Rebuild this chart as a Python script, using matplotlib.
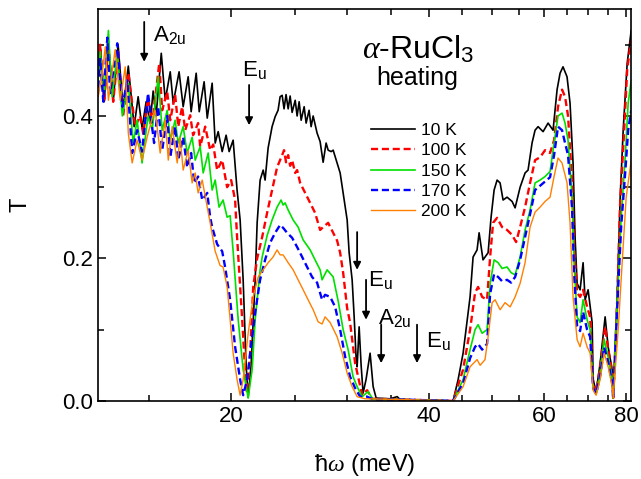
import numpy as np
import matplotlib
matplotlib.use('Agg')
import matplotlib.pyplot as plt
from matplotlib.ticker import FixedLocator, NullFormatter

plt.rcParams['font.family'] = ['Liberation Sans', 'DejaVu Sans']
plt.rcParams['mathtext.fontset'] = 'custom'
plt.rcParams['mathtext.rm'] = 'Liberation Sans'
plt.rcParams['mathtext.it'] = 'Liberation Serif:italic'

# photon energy (meV) and transmission
e10 = [12.54, 12.63, 12.81, 13.00, 13.22, 13.45, 13.69, 13.94, 14.23, 14.43, 14.63, 14.84, 15.05, 15.21,
       15.37, 15.65, 15.87, 16.15, 16.32, 16.66, 16.90, 17.20, 17.38, 17.69, 17.88, 18.19, 18.39, 18.71,
       18.91, 19.11, 19.38, 19.65, 19.86, 20.14, 20.42, 20.64, 20.86, 21.08, 21.23, 21.45, 21.76, 21.91,
       22.14, 22.38, 22.53, 22.77, 23.09, 23.34, 23.58, 23.75, 23.92, 24.08, 24.25, 24.43, 24.60, 24.77,
       25.04, 25.21, 25.39, 25.57, 25.84, 26.02, 26.29, 26.48, 26.67, 27.04, 27.33, 27.62, 27.91, 28.11,
       28.41, 28.61, 29.01, 29.32, 29.63, 30.05, 30.26, 30.58, 30.79, 31.01, 31.12, 31.34, 31.56, 31.78,
       32.11, 32.57, 32.92, 33.27, 34.94, 35.81, 36.19, 43.58, 44.36, 45.14, 46.26, 46.75, 47.41, 47.75,
       48.41, 49.28, 49.80, 50.33, 50.86, 51.40, 51.94, 52.67, 53.61, 54.18, 55.14, 56.11, 56.70, 57.50,
       58.11, 58.73, 59.77, 60.83, 61.90, 62.78, 63.44, 64.10, 65.01, 65.70, 66.40, 66.87, 67.35, 68.06,
       68.78, 69.27, 70.00, 71.00, 71.25, 72.00, 73.02, 74.31, 75.10, 76.17, 76.44, 77.52, 78.34, 79.17,
       80.29, 81.43]
t10 = [0.47, 0.50, 0.42, 0.50, 0.42, 0.50, 0.41, 0.47, 0.385, 0.427, 0.383, 0.42, 0.39, 0.435,
       0.40, 0.488, 0.422, 0.462, 0.418, 0.462, 0.413, 0.455, 0.406, 0.46, 0.406, 0.448, 0.397, 0.446,
       0.362, 0.378, 0.35, 0.373, 0.35, 0.366, 0.296, 0.254, 0.17, 0.05, 0.005, 0.05, 0.17, 0.25,
       0.31, 0.324, 0.31, 0.355, 0.385, 0.399, 0.408, 0.427, 0.429, 0.41, 0.43, 0.41, 0.428, 0.405,
       0.422, 0.40, 0.42, 0.394, 0.413, 0.39, 0.408, 0.385, 0.40, 0.376, 0.364, 0.335, 0.362, 0.352,
       0.35, 0.352, 0.334, 0.32, 0.292, 0.254, 0.208, 0.17, 0.12, 0.06, 0.048, 0.104, 0.05, 0.011,
       0.03, 0.067, 0.02, 0.004, 0.003, 0.006, 0.002, 0.0, 0.03, 0.067, 0.146, 0.202, 0.212, 0.236,
       0.198, 0.208, 0.258, 0.296, 0.31, 0.306, 0.282, 0.286, 0.28, 0.271, 0.30, 0.32, 0.324, 0.362,
       0.38, 0.385, 0.378, 0.39, 0.38, 0.437, 0.46, 0.469, 0.455, 0.418, 0.334, 0.23, 0.165, 0.156,
       0.194, 0.142, 0.156, 0.11, 0.03, 0.013, 0.053, 0.118, 0.076, 0.044, 0.004, 0.146, 0.286, 0.38,
       0.474, 0.52]

e100 = [12.54, 12.63, 12.81, 13.00, 13.22, 13.45, 13.69, 13.94, 14.28, 14.53, 14.69, 14.94, 15.16, 15.54,
        15.70, 15.98, 16.15, 16.43, 16.61, 16.84, 17.02, 17.32, 17.50, 17.81, 17.94, 18.26, 18.58, 18.78,
        19.04, 19.38, 19.72, 20.00, 20.28, 20.42, 20.79, 21.00, 21.15, 21.38, 21.61, 21.91, 22.30, 22.69,
        23.09, 23.50, 23.92, 24.08, 24.25, 24.43, 24.60, 24.77, 25.04, 25.21, 25.48, 25.93, 26.39, 26.85,
        27.33, 27.62, 28.11, 28.61, 29.01, 29.32, 29.63, 30.05, 30.36, 30.90, 31.23, 31.67, 32.23, 32.80,
        36.19, 43.58, 45.14, 46.26, 47.08, 47.58, 48.26, 49.10, 49.63, 50.15, 50.86, 51.76, 52.67, 53.61,
        54.37, 55.14, 56.11, 57.10, 58.11, 59.14, 60.19, 61.25, 62.12, 62.99, 63.88, 64.56, 65.24, 66.17,
        66.64, 67.35, 68.06, 68.78, 69.75, 70.50, 71.25, 72.00, 73.02, 74.31, 75.10, 76.17, 76.44, 77.52,
        78.34, 79.45, 80.29, 81.43]
t100 = [0.46, 0.50, 0.42, 0.50, 0.42, 0.49, 0.40, 0.46, 0.385, 0.40, 0.375, 0.425, 0.39, 0.474,
        0.408, 0.434, 0.394, 0.43, 0.385, 0.413, 0.38, 0.401, 0.373, 0.39, 0.357, 0.385, 0.352, 0.36,
        0.324, 0.338, 0.30, 0.31, 0.282, 0.23, 0.114, 0.044, 0.011, 0.067, 0.16, 0.20, 0.23, 0.264,
        0.296, 0.328, 0.345, 0.352, 0.335, 0.345, 0.33, 0.338, 0.32, 0.324, 0.306, 0.292, 0.278, 0.264,
        0.24, 0.244, 0.25, 0.236, 0.225, 0.208, 0.18, 0.13, 0.11, 0.053, 0.034, 0.008, 0.015, 0.003,
        0.002, 0.0, 0.044, 0.10, 0.152, 0.16, 0.146, 0.142, 0.202, 0.25, 0.257, 0.244, 0.24, 0.233,
        0.223, 0.244, 0.272, 0.306, 0.338, 0.342, 0.352, 0.348, 0.366, 0.413, 0.437, 0.427, 0.40, 0.31,
        0.216, 0.152, 0.146, 0.156, 0.132, 0.118, 0.025, 0.012, 0.048, 0.104, 0.072, 0.04, 0.004, 0.14,
        0.278, 0.38, 0.465, 0.507]

e150 = [12.54, 12.63, 12.81, 13.00, 13.17, 13.41, 13.65, 13.94, 14.18, 14.38, 14.63, 14.94, 15.16, 15.48,
        15.70, 15.98, 16.15, 16.43, 16.61, 16.90, 17.14, 17.44, 17.63, 17.94, 18.13, 18.45, 18.71, 18.91,
        19.17, 19.44, 19.72, 19.93, 20.14, 20.50, 20.86, 21.23, 21.53, 21.76, 22.14, 22.30, 22.69, 23.09,
        23.50, 23.83, 24.00, 24.17, 24.43, 24.86, 25.30, 25.75, 26.39, 26.85, 27.33, 27.52, 28.01, 28.61,
        29.12, 29.63, 30.15, 30.68, 31.12, 31.67, 32.34, 32.92, 36.19, 43.58, 45.14, 46.26, 47.08, 47.58,
        48.26, 49.10, 49.63, 50.33, 51.04, 51.76, 52.67, 53.43, 54.18, 55.14, 56.11, 57.10, 58.11, 59.14,
        60.19, 61.25, 62.12, 62.99, 63.88, 64.56, 65.24, 66.17, 66.64, 67.35, 68.06, 68.78, 69.75, 70.50,
        71.25, 72.00, 73.02, 74.05, 75.10, 76.17, 76.44, 77.52, 78.62, 79.73, 80.57, 81.43]
t150 = [0.45, 0.49, 0.43, 0.52, 0.427, 0.488, 0.40, 0.446, 0.362, 0.394, 0.334, 0.40, 0.38, 0.455,
        0.38, 0.408, 0.366, 0.394, 0.362, 0.385, 0.348, 0.37, 0.338, 0.357, 0.32, 0.348, 0.296, 0.31,
        0.272, 0.282, 0.258, 0.26, 0.21, 0.114, 0.044, 0.004, 0.044, 0.114, 0.184, 0.202, 0.232, 0.254,
        0.272, 0.282, 0.275, 0.278, 0.268, 0.254, 0.244, 0.226, 0.212, 0.198, 0.184, 0.17, 0.184, 0.174,
        0.14, 0.10, 0.072, 0.034, 0.02, 0.006, 0.013, 0.002, 0.002, 0.0, 0.03, 0.072, 0.10, 0.107,
        0.095, 0.10, 0.165, 0.198, 0.194, 0.186, 0.188, 0.18, 0.177, 0.202, 0.24, 0.268, 0.306, 0.31,
        0.315, 0.322, 0.362, 0.40, 0.404, 0.39, 0.366, 0.286, 0.194, 0.118, 0.11, 0.142, 0.114, 0.10,
        0.02, 0.01, 0.04, 0.086, 0.062, 0.03, 0.004, 0.138, 0.258, 0.342, 0.418, 0.45]

e170 = [12.54, 12.63, 12.77, 12.95, 13.08, 13.41, 13.65, 13.89, 14.13, 14.38, 14.63, 14.94, 15.26, 15.48,
        15.70, 15.98, 16.15, 16.43, 16.61, 16.90, 17.14, 17.38, 17.57, 17.81, 18.07, 18.39, 18.58, 18.71,
        19.04, 19.38, 19.58, 19.93, 20.28, 20.64, 20.86, 21.15, 21.38, 21.76, 22.14, 22.53, 22.93, 23.34,
        23.75, 24.00, 24.34, 24.77, 25.21, 25.66, 26.11, 26.57, 27.04, 27.52, 27.81, 28.31, 28.81, 29.32,
        29.84, 30.36, 30.90, 31.45, 32.23, 32.92, 36.19, 43.58, 45.14, 46.26, 47.08, 47.58, 48.26, 49.10,
        49.63, 50.33, 51.04, 51.76, 52.67, 53.43, 54.18, 55.14, 56.11, 57.10, 58.11, 59.14, 60.19, 61.25,
        62.12, 62.99, 63.88, 64.56, 65.24, 66.17, 66.64, 67.35, 68.06, 68.78, 69.75, 70.50, 71.25, 72.00,
        73.02, 74.05, 75.10, 76.17, 76.44, 77.52, 78.62, 79.73, 80.57, 81.43]
t170 = [0.44, 0.48, 0.42, 0.51, 0.432, 0.502, 0.413, 0.45, 0.348, 0.38, 0.35, 0.432, 0.362, 0.413,
        0.352, 0.40, 0.342, 0.385, 0.338, 0.37, 0.328, 0.348, 0.306, 0.315, 0.282, 0.292, 0.258, 0.244,
        0.22, 0.21, 0.188, 0.142, 0.076, 0.03, 0.008, 0.03, 0.067, 0.124, 0.17, 0.198, 0.222, 0.236,
        0.247, 0.243, 0.236, 0.229, 0.216, 0.202, 0.188, 0.174, 0.166, 0.142, 0.149, 0.146, 0.132, 0.10,
        0.062, 0.034, 0.018, 0.006, 0.006, 0.002, 0.002, 0.0, 0.025, 0.06, 0.076, 0.08, 0.072, 0.08,
        0.15, 0.178, 0.174, 0.168, 0.17, 0.166, 0.174, 0.198, 0.23, 0.262, 0.296, 0.302, 0.308, 0.314,
        0.345, 0.385, 0.38, 0.362, 0.345, 0.27, 0.18, 0.105, 0.098, 0.125, 0.10, 0.09, 0.018, 0.01,
        0.035, 0.075, 0.055, 0.025, 0.004, 0.13, 0.245, 0.32, 0.38, 0.408]

e200 = [12.54, 12.68, 12.86, 13.00, 13.31, 13.55, 13.79, 13.94, 14.13, 14.38, 14.63, 14.89, 15.16, 15.32,
        15.59, 15.87, 16.04, 16.26, 16.55, 16.72, 16.90, 17.20, 17.44, 17.63, 17.81, 18.07, 18.39, 18.58,
        18.91, 19.24, 19.44, 19.72, 19.93, 20.14, 20.42, 20.64, 20.86, 21.23, 21.61, 21.99, 22.38, 22.77,
        23.17, 23.50, 23.75, 24.00, 24.43, 24.86, 25.30, 25.75, 26.20, 26.67, 27.14, 27.52, 27.81, 28.31,
        29.01, 29.53, 30.05, 30.58, 31.12, 32.00, 36.19, 43.58, 45.14, 46.26, 47.41, 47.92, 48.75, 49.28,
        49.98, 50.50, 51.40, 52.30, 53.24, 54.18, 55.14, 56.11, 57.10, 58.11, 59.14, 60.19, 61.25, 62.12,
        62.99, 63.88, 65.01, 65.70, 66.40, 67.35, 68.06, 68.78, 69.75, 70.50, 71.25, 72.00, 73.02, 74.05,
        75.10, 76.17, 76.44, 77.79, 78.89, 80.01, 81.43]
t200 = [0.427, 0.45, 0.497, 0.422, 0.493, 0.422, 0.469, 0.376, 0.334, 0.366, 0.338, 0.37, 0.397, 0.408,
        0.348, 0.394, 0.338, 0.385, 0.334, 0.37, 0.324, 0.352, 0.306, 0.32, 0.292, 0.31, 0.272, 0.25,
        0.21, 0.19, 0.188, 0.16, 0.114, 0.067, 0.03, 0.008, 0.03, 0.095, 0.146, 0.174, 0.184, 0.194,
        0.202, 0.212, 0.205, 0.205, 0.194, 0.184, 0.17, 0.156, 0.142, 0.128, 0.111, 0.108, 0.118, 0.11,
        0.09, 0.067, 0.039, 0.02, 0.006, 0.003, 0.002, 0.0, 0.02, 0.048, 0.058, 0.05, 0.058, 0.09,
        0.138, 0.142, 0.128, 0.138, 0.132, 0.146, 0.165, 0.194, 0.244, 0.265, 0.272, 0.28, 0.286, 0.315,
        0.341, 0.334, 0.306, 0.25, 0.146, 0.086, 0.076, 0.095, 0.076, 0.067, 0.015, 0.008, 0.03, 0.067,
        0.048, 0.02, 0.004, 0.10, 0.194, 0.286, 0.338]

labels = ['10 K', '100 K', '150 K', '170 K', '200 K']

# phonon markers: (energy, arrow top, arrow bottom)
arrows = [(14.74, 0.532, 0.476), (21.30, 0.4435, 0.387), (31.12, 0.237, 0.184),
          (32.11, 0.17, 0.114), (33.86, 0.107, 0.053), (38.40, 0.107, 0.053)]
marks = [('A$_\\mathrm{2u}$', 15.21, 0.514), ('E$_\\mathrm{u}$', 20.79, 0.465), ('E$_\\mathrm{u}$', 32.34, 0.17),
         ('A$_\\mathrm{2u}$', 33.5, 0.116), ('E$_\\mathrm{u}$', 39.6, 0.084)]

fig = plt.figure(figsize=(6.41, 4.79), dpi=100)
ax = fig.add_axes([0.1524, 0.163, 0.8316, 0.818])

dash = (0, (3, 1.6))
ax.plot(e10, t10, color='black', lw=1.2, label=labels[0])
ax.plot(e100, t100, color='#ff0000', lw=1.7, linestyle=dash, label=labels[1])
ax.plot(e150, t150, color='#00e000', lw=1.2, label=labels[2])
ax.plot(e170, t170, color='#0000ff', lw=1.7, linestyle=dash, label=labels[3])
ax.plot(e200, t200, color='#ff8000', lw=1.0, label=labels[4])

for e, y0, y1 in arrows:
    ax.annotate('', xy=(e, y1), xytext=(e, y0),
                arrowprops=dict(arrowstyle='-|>', color='black', lw=1.3, mutation_scale=11,
                                shrinkA=0, shrinkB=0))
for txt, e, y in marks:
    ax.text(e, y, txt, fontsize=16, ha='left', va='center')

ax.set_xscale('log')
ax.set_xlim(12.52, 81.3)
ax.set_ylim(0, 0.55)
ax.xaxis.set_major_locator(FixedLocator([20, 40, 60, 80]))
ax.xaxis.set_minor_locator(FixedLocator([15, 25, 30, 35, 45, 50, 55, 65, 70, 75]))
ax.xaxis.set_minor_formatter(NullFormatter())
ax.set_xticklabels(['20', '40', '60', '80'])
ax.set_yticks([0.0, 0.2, 0.4])
ax.set_yticks([0.1, 0.3, 0.5], minor=True)
ax.set_yticklabels(['0.0', '0.2', '0.4'])
ax.tick_params(which='both', direction='in', top=True, right=True, labelsize=16, width=1.1)
ax.tick_params(which='major', length=6)
ax.tick_params(which='minor', length=4)
for sp in ax.spines.values():
    sp.set_linewidth(1.2)

ax.set_xlabel('ħ$ω$ (meV)', fontsize=17, labelpad=18)
ax.set_ylabel('T', fontsize=17, labelpad=22)

ax.text(0.601, 0.895, '$α$-RuCl$_3$', transform=ax.transAxes, fontsize=23, ha='center', va='center')
ax.text(0.6, 0.825, 'heating', transform=ax.transAxes, fontsize=18, ha='center', va='center')

ax.legend(loc='upper left', bbox_to_anchor=(0.513, 0.71), frameon=False, fontsize=12.5,
          handlelength=2.5, labelspacing=0.3, borderpad=0, borderaxespad=0, handletextpad=0.35)

fig.savefig('out.png', dpi=100)
